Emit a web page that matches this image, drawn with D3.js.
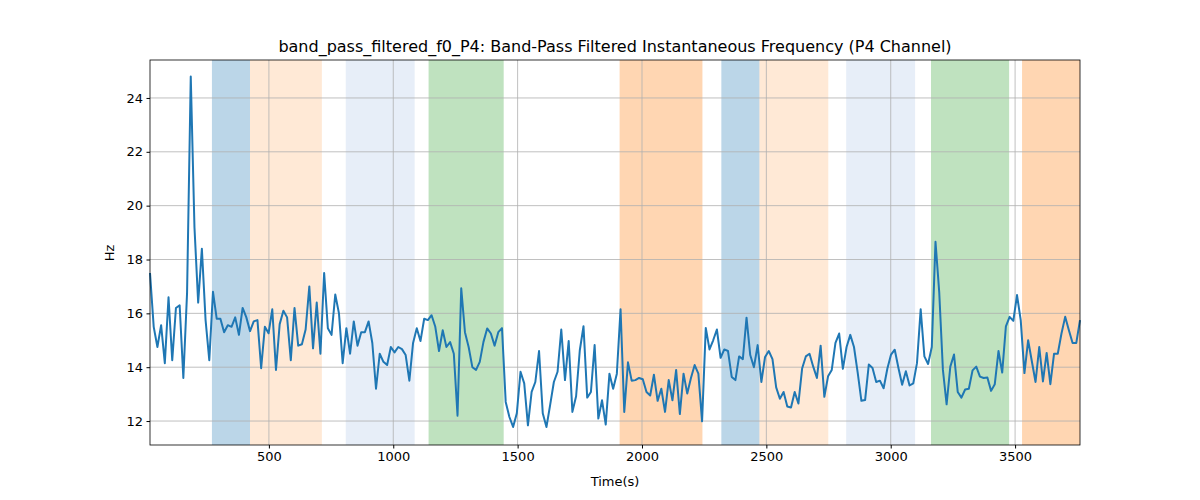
<!DOCTYPE html>
<html><head><meta charset="utf-8">
<script src="https://cdn.jsdelivr.net/npm/d3@7"></script>
<style>body{margin:0;background:#fff;font-family:"DejaVu Sans",sans-serif;}</style>
</head><body><svg id="c" width="1200" height="500"></svg>
<script>
const values = [17.5,15.5,14.75,15.56,14.15,16.6,14.26,16.2,16.3,13.6,16.75,24.8,19.2,16.4,18.4,15.75,14.26,16.8,15.8,15.8,15.3,15.56,15.5,15.85,15.2,16.2,15.85,15.34,15.7,15.75,13.96,15.5,15.26,16.15,13.9,15.6,16.1,15.85,14.26,16.2,14.8,14.85,15.4,17.0,14.7,16.4,14.5,17.5,15.45,15.2,16.7,16.0,14.15,15.45,14.5,15.7,14.8,15.3,15.3,15.7,14.9,13.2,14.5,14.2,14.08,14.75,14.55,14.75,14.67,14.45,13.5,14.9,15.45,14.97,15.8,15.75,15.93,15.5,14.6,15.37,14.75,14.93,14.5,12.2,16.93,15.3,14.75,14.0,13.9,14.2,
14.94,15.44,15.25,14.8,15.3,15.45,12.71,12.15,11.78,12.29,13.83,13.4,11.84,13.08,13.45,14.6,12.29,11.78,12.6,13.45,13.83,15.4,13.52,14.97,12.34,12.92,14.63,15.52,12.87,13.08,14.82,12.09,12.77,11.87,13.76,13.2,13.76,16.15,12.34,14.18,13.5,13.52,13.6,13.55,13.08,12.95,13.72,12.75,13.2,12.34,13.52,12.77,13.9,12.26,13.76,13.02,13.6,14.08,13.76,11.99,15.46,14.66,15.0,15.4,14.35,14.66,14.6,13.64,13.52,14.4,14.3,15.84,14.45,14.0,14.82,13.45,14.38,14.6,14.3,13.25,12.83,13.08,12.54,
12.5,13.08,12.65,13.95,14.4,14.5,14.02,13.6,14.8,12.9,13.66,13.9,14.9,15.25,13.94,14.75,15.2,14.75,13.8,12.75,12.78,14.1,13.97,13.45,13.5,13.22,13.94,14.47,14.65,13.97,13.35,13.85,13.32,13.4,14.15,16.15,14.4,14.12,14.75,18.66,16.8,13.9,12.62,14.02,14.47,13.08,12.87,13.17,13.2,13.88,14.02,13.65,13.6,13.62,13.12,13.37,14.6,13.8,15.52,15.87,15.72,16.68,15.75,13.78,15.0,14.22,13.45,14.75,13.47,14.53,13.37,14.5,14.5,15.25,15.87,15.37,14.9,14.9,15.75];
const tStart = 22, tEnd = 3761;
const times = values.map((v,i)=> tStart + i*(tEnd-tStart)/(values.length-1));
const spanStarts = [271,424,809,1142,1910,2319,2472,2821,3162,3528];
const spanEnds   = [424,713,1086,1444,2243,2472,2749,3098,3476,3761];
const spanKinds  = ["b","o2","lb","g","o","b","o2","lb","g","o"];
const kindColor = {b:["#1f77b4",0.3],o:["#ff7f0e",0.32],o2:["#ff7f0e",0.17],lb:["#aec7e8",0.3],g:["#2ca02c",0.3]};
const xTicks=[500,1000,1500,2000,2500,3000,3500];
const yTicks=[12,14,16,18,20,22,24];

const svg=d3.select("#c");
const L=150,R=1080,T=60,B=445;
const x=d3.scaleLinear().domain([tStart,tEnd]).range([L,R]);
const y=d3.scaleLinear().domain([11.11,25.41]).range([B,T]);
const g=svg.append("g");
spanStarts.forEach((s,i)=>{
  const [c,a]=kindColor[spanKinds[i]];
  g.append("rect").attr("x",x(s)).attr("width",x(spanEnds[i])-x(s)).attr("y",T).attr("height",B-T)
   .attr("fill",c).attr("fill-opacity",a);
});
xTicks.forEach(t=>g.append("line").attr("x1",x(t)).attr("x2",x(t)).attr("y1",T).attr("y2",B).attr("stroke","#b0b0b0").attr("stroke-width",0.8));
yTicks.forEach(t=>g.append("line").attr("x1",L).attr("x2",R).attr("y1",y(t)).attr("y2",y(t)).attr("stroke","#b0b0b0").attr("stroke-width",0.8));
g.append("path").datum(values).attr("fill","none").attr("stroke","#1f77b4").attr("stroke-width",2)
 .attr("stroke-linejoin","round")
 .attr("d",d3.line().x((d,i)=>x(times[i])).y(d=>y(d)));
const xa=svg.append("g").attr("transform",`translate(0,${B})`).call(d3.axisBottom(x).tickValues(xTicks).tickFormat(d3.format("d")).tickSize(3.5).tickPadding(3.5));
const ya=svg.append("g").attr("transform",`translate(${L},0)`).call(d3.axisLeft(y).tickValues(yTicks).tickFormat(d3.format("d")).tickSize(3.5).tickPadding(3.5));
[xa,ya].forEach(a=>{a.selectAll("text").attr("font-size",13).attr("font-family","DejaVu Sans").attr("fill","#000");a.select(".domain").remove();a.selectAll("line").attr("stroke","#000");});
svg.append("rect").attr("x",L).attr("y",T).attr("width",R-L).attr("height",B-T).attr("fill","none").attr("stroke","#000").attr("stroke-width",0.8);
svg.append("text").attr("x",(L+R)/2).attr("y",52).attr("text-anchor","middle").attr("font-size",16).text("band_pass_filtered_f0_P4: Band-Pass Filtered Instantaneous Frequency (P4 Channel)");
svg.append("text").attr("x",(L+R)/2).attr("y",486).attr("text-anchor","middle").attr("font-size",13).text("Time(s)");
svg.append("text").attr("transform","translate(114,253) rotate(-90)").attr("text-anchor","middle").attr("font-size",13).text("Hz");
</script></body></html>
